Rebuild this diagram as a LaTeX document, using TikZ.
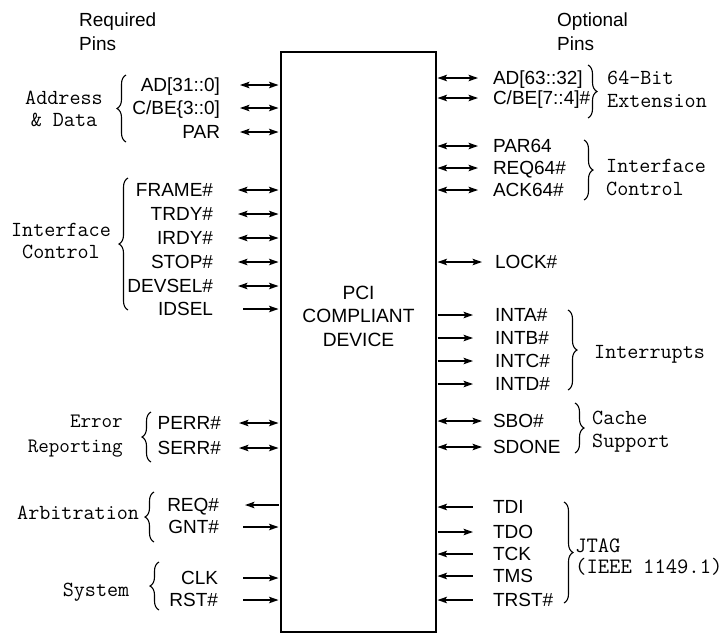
\documentclass[tikz,border=0pt]{standalone}
\usepackage{fontspec}
\setmainfont{Liberation Sans}
\usetikzlibrary{arrows.meta,decorations.pathreplacing,calc}
\newcommand\Lpin[6]{%
  \node[pinlabel,anchor=east] (#1) at (#2,#3) {#4};
  \draw[#5] ($(#1.east -| dev.west)+(-#6,0)$) -- ($(#1.east -| dev.west)+(-2.5,0)$);}
\newcommand\Rpin[6]{%
  \node[pinlabel,anchor=west] (#1) at (#2,#3) {#4};
  \draw[#5] ($(#1.west -| dev.east)+(1.5,0)$) -- ($(#1.west -| dev.east)+(#6,0)$);}
\begin{document}
\begin{tikzpicture}[x=1pt,y=-1pt,
  pinlabel/.style={font=\fontsize{19}{22}\selectfont, inner sep=0pt, outer sep=0pt,
    text height=13.6pt, text depth=0pt, text=black},
  grp/.style={font=\ttfamily\fontsize{21.5}{22}\selectfont, inner sep=0pt, text=black},
  head/.style={font=\fontsize{19}{24}\selectfont, inner sep=0pt, align=left, anchor=west},
  tip/.tip={Stealth[length=9.5pt,width=6.5pt,inset=2pt]},
  bi/.style={line width=1.3pt, tip-tip},
  fwd/.style={line width=1.3pt, -tip},
  bwd/.style={line width=1.3pt, tip-},
  brc/.style={line width=1.1pt, decorate, decoration={brace, amplitude=9pt}},
]
\useasboundingbox (0,0) rectangle (728,633);
\fill[white] (0,0) rectangle (728,633);

% device box
\node[draw, line width=1.4pt, inner sep=0pt, outer sep=0pt, minimum width=155pt,
      minimum height=580pt, anchor=north west] (dev) at (281,52) {};
\node[font=\fontsize{19.2}{23.5}\selectfont, align=center, inner sep=0pt] (title) at (358.5,316) {PCI\\COMPLIANT\\DEVICE};

% headers
\node[head] (req) at (79,32) {Required\\Pins};
\node[head] (opt) at (557,32) {Optional\\Pins};

% left pins
\Lpin{pAD}{220}{85}{AD[31::0]}{bi}{41}
\Lpin{pCBE}{220}{108}{C/BE\{3::0]}{bi}{41}
\Lpin{pPAR}{220}{132}{PAR}{bi}{41}
\Lpin{pFRAME}{213}{190}{FRAME\#}{bi}{43}
\Lpin{pTRDY}{213}{214}{TRDY\#}{bi}{43}
\Lpin{pIRDY}{213}{238}{IRDY\#}{bi}{43}
\Lpin{pSTOP}{213}{262}{STOP\#}{bi}{43}
\Lpin{pDEVSEL}{213}{286}{DEVSEL\#}{bi}{43}
\Lpin{pIDSEL}{213}{309}{IDSEL}{fwd}{38}
\Lpin{pPERR}{221}{423}{PERR\#}{bi}{42}
\Lpin{pSERR}{221}{448}{SERR\#}{bi}{42}
\Lpin{pREQ}{219}{505}{REQ\#}{bwd}{36}
\Lpin{pGNT}{219}{527}{GNT\#}{fwd}{38}
\Lpin{pCLK}{218}{578}{CLK}{fwd}{38}
\Lpin{pRST}{218}{600}{RST\#}{fwd}{38}

% right pins
\Rpin{pAD64}{493}{78}{AD[63::32]}{bi}{42}
\Rpin{pCBE64}{493}{98}{C/BE[7::4]\#}{bi}{42}
\Rpin{pPAR64}{493}{146}{PAR64}{bi}{42}
\Rpin{pREQ64}{493}{168}{REQ64\#}{bi}{42}
\Rpin{pACK64}{493}{190}{ACK64\#}{bi}{42}
\Rpin{pLOCK}{495}{262}{LOCK\#}{bi}{46}
\Rpin{pINTA}{495}{315}{INTA\#}{fwd}{37}
\Rpin{pINTB}{495}{338}{INTB\#}{fwd}{37}
\Rpin{pINTC}{495}{361}{INTC\#}{fwd}{37}
\Rpin{pINTD}{495}{384}{INTD\#}{fwd}{37}
\Rpin{pSBO}{493}{421}{SBO\#}{bi}{46}
\Rpin{pSDONE}{493}{447}{SDONE}{bi}{46}
\Rpin{pTDI}{493}{507}{TDI}{bwd}{37}
\Rpin{pTDO}{493}{532}{TDO}{fwd}{37}
\Rpin{pTCK}{493}{554}{TCK}{bwd}{37}
\Rpin{pTMS}{493}{576}{TMS}{bwd}{37}
\Rpin{pTRST}{493}{600}{TRST\#}{bwd}{37}

% left braces
\draw[brc] (126,142) -- (126,75);
\draw[brc] (128,310) -- (128,178);
\draw[brc] (151,462) -- (151,412);
\draw[brc] (154,542) -- (154,492);
\draw[brc] (159,610) -- (159,562);
% right braces
\draw[brc] (588,65) -- (588,118);
\draw[brc] (584,140) -- (584,200);
\draw[brc] (568,310) -- (568,390);
\draw[brc] (575,403) -- (575,453);
\draw[brc] (564,502) -- (564,603);

% group labels
\node[grp, align=center] (gAddr) at (64,109) {Address\\\& Data};
\node[grp, align=center] (gIfc) at (61,241) {Interface\\Control};
\node[grp, align=right, anchor=east, font=\ttfamily\fontsize{20.5}{25}\selectfont] (gErr) at (123,436) {Error \\Reporting};
\node[grp, anchor=west] (gArb) at (17,513) {Arbitration};
\node[grp] (gSys) at (96,592) {System};
\node[grp, align=left, anchor=west, font=\ttfamily\fontsize{21.5}{23}\selectfont] (gExt) at (607,89) {64-Bit\\Extension};
\node[grp, align=left, anchor=west, font=\ttfamily\fontsize{21.5}{23}\selectfont] (gIfc2) at (606,177) {Interface\\Control};
\node[grp, anchor=west] (gInt) at (594,354) {Interrupts};
\node[grp, align=left, anchor=west, font=\ttfamily\fontsize{21.5}{23}\selectfont] (gCache) at (592,432) {Cache\\Support};
\node[grp, align=left, anchor=west, font=\ttfamily\fontsize{22}{20.5}\selectfont] (gJtag) at (575,557) {JTAG\\(IEEE 1149.1)};
\end{tikzpicture}
\end{document}
